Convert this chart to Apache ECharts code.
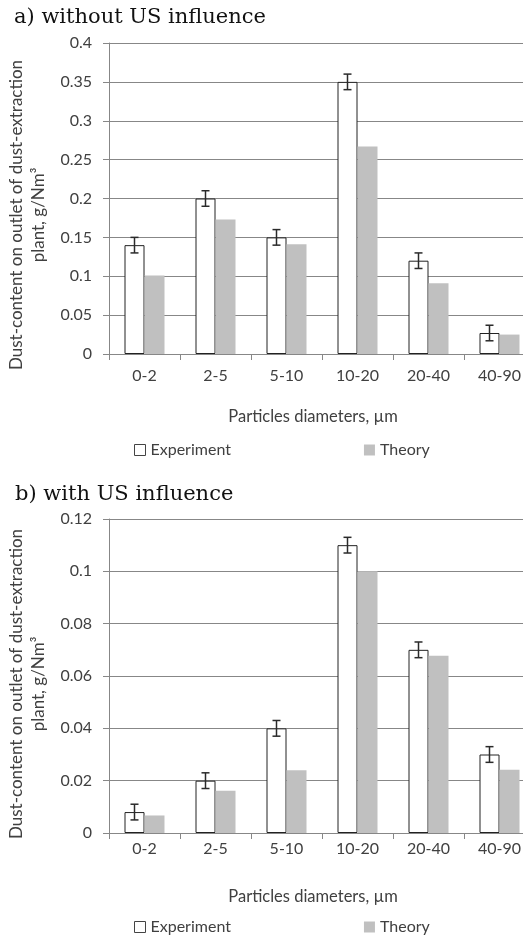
<!DOCTYPE html>
<html>
<head>
<meta charset="utf-8">
<script src="https://cdn.jsdelivr.net/npm/echarts@6/dist/echarts.min.js"></script>
<style>html,body{margin:0;padding:0;background:#fff}#c{width:523px;height:936px}</style>
</head>
<body>
<div id="c"></div>
<script>
const categories = ['0-2', '2-5', '5-10', '10-20', '20-40', '40-90'];
const expA = [0.14, 0.2, 0.15, 0.35, 0.12, 0.027];
const theoryA = [0.101, 0.173, 0.141, 0.267, 0.091, 0.025];
const errA = [0.01, 0.01, 0.01, 0.01, 0.01, 0.01];
const expB = [0.008, 0.02, 0.04, 0.11, 0.07, 0.03];
const theoryB = [0.0067, 0.0161, 0.024, 0.1, 0.0677, 0.0242];
const errB = [0.003, 0.003, 0.003, 0.003, 0.003, 0.003];
const yTicksA = { min: 0, max: 0.4, interval: 0.05 };
const yTicksB = { min: 0, max: 0.12, interval: 0.02 };

const SANS = 'Lato';
const TXT = '#404040';
const GRID = '#878787';

function xAxisOf(gi, margin) {
  return {
    type: 'category', gridIndex: gi, data: categories,
    axisLine: { lineStyle: { color: GRID, width: 1 } },
    axisTick: { show: true, length: 6, inside: false, lineStyle: { color: GRID } },
    axisLabel: { color: TXT, fontFamily: SANS, fontSize: 16, margin: margin }
  };
}
function yAxisOf(gi, t) {
  return {
    type: 'value', gridIndex: gi, min: t.min, max: t.max, interval: t.interval,
    axisLine: { show: true, lineStyle: { color: GRID, width: 1 } },
    axisTick: { show: true, length: 6, lineStyle: { color: GRID } },
    splitLine: { lineStyle: { color: GRID, width: 1 } },
    axisLabel: { color: TXT, fontFamily: SANS, fontSize: 16, margin: 17 }
  };
}
function errSeries(gi, vals, errs) {
  return {
    type: 'custom', name: 'err' + gi, xAxisIndex: gi, yAxisIndex: gi, z: 10,
    data: vals.map((v, i) => [i, v, errs[i]]),
    encode: { x: 0, y: 1 },
    renderItem: function (params, api) {
      const i = api.value(0), v = api.value(1), e = api.value(2);
      const x = api.coord([i, v])[0] - 10;
      const yt = api.coord([i, v + e])[1];
      const yb = api.coord([i, v - e])[1];
      const st = { stroke: '#2a2a2a', lineWidth: 1.5 };
      return { type: 'group', children: [
        { type: 'line', shape: { x1: x, y1: yt, x2: x, y2: yb }, style: st },
        { type: 'line', shape: { x1: x - 4, y1: yt, x2: x + 4, y2: yt }, style: st },
        { type: 'line', shape: { x1: x - 4, y1: yb, x2: x + 4, y2: yb }, style: st }
      ] };
    }
  };
}
function barSeries(gi, name, vals, style) {
  return { type: 'bar', name: name, xAxisIndex: gi, yAxisIndex: gi, data: vals,
    barWidth: 20, barGap: '0%', itemStyle: style, emphasis: { disabled: true } };
}
const expStyle = { color: '#ffffff', borderColor: '#222', borderWidth: 1 };
const thStyle = { color: '#c0c0c0', borderWidth: 0 };

function legendOf(top) {
  return {
    left: 134, top: top, itemWidth: 11, itemHeight: 11, itemGap: 133, icon: 'rect',
    selectedMode: false, padding: 0,
    textStyle: { color: TXT, fontFamily: SANS, fontSize: 16 },
    data: [
      { name: 'Experiment', itemStyle: { color: '#fff', borderColor: '#444', borderWidth: 1 } },
      { name: 'Theory', itemStyle: { color: '#c0c0c0', borderWidth: 0 } }
    ]
  };
}
function txt(x, y, s, font, size, rot, lh) {
  return { type: 'text', x: x, y: y, rotation: rot || 0, silent: true,
    style: { text: s, fill: TXT, font: size + 'px ' + font, align: 'center', verticalAlign: 'middle', lineHeight: lh || size } };
}

const chart = echarts.init(document.getElementById('c'), null, { renderer: 'canvas' });
chart.setOption({
  animation: false,
  backgroundColor: '#fff',
  grid: [
    { left: 109, top: 43, width: 426, height: 311, outerBoundsMode: 'none', containLabel: false },
    { left: 109, top: 519, width: 426, height: 314, outerBoundsMode: 'none', containLabel: false }
  ],
  xAxis: [xAxisOf(0, 14), xAxisOf(1, 8)],
  yAxis: [yAxisOf(0, yTicksA), yAxisOf(1, yTicksB)],
  legend: [legendOf(442), legendOf(919)],
  series: [
    barSeries(0, 'Experiment', expA, expStyle),
    barSeries(0, 'Theory', theoryA, thStyle),
    errSeries(0, expA, errA),
    barSeries(1, 'Experiment', expB, expStyle),
    barSeries(1, 'Theory', theoryB, thStyle),
    errSeries(1, expB, errB)
  ],
  graphic: [
    { type: 'text', left: 14, top: 7, silent: true, style: { text: 'a) without US influence', fill: '#111', font: '21px "DejaVu Serif"' } },
    { type: 'text', left: 15, top: 484, silent: true, style: { text: 'b) with US influence', fill: '#111', font: '21px "DejaVu Serif"' } },
    txt(313, 417, 'Particles diameters, µm', SANS, 16.5),
    txt(313, 897, 'Particles diameters, µm', SANS, 16.5),
    txt(28, 215, 'Dust-content on outlet of dust-extraction\nplant, g/Nm³', SANS, 17, Math.PI / 2, 22),
    txt(28, 684, 'Dust-content on outlet of dust-extraction\nplant, g/Nm³', SANS, 17, Math.PI / 2, 22)
  ]
});
</script>
</body>
</html>
